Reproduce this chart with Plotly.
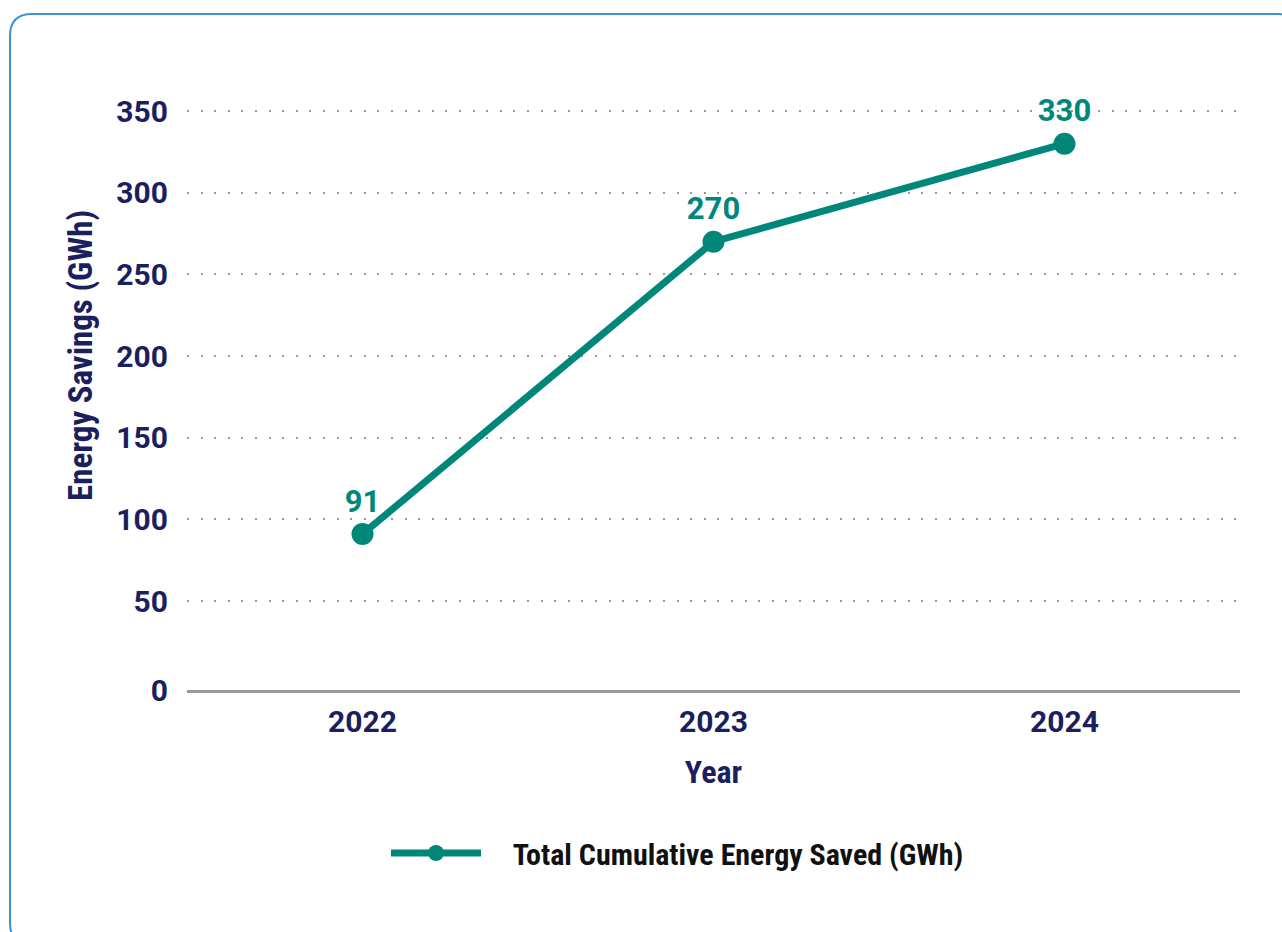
import plotly.graph_objects as go

years = ["2022", "2023", "2024"]
savings = [91, 270, 330]
y_ticks = [0, 50, 100, 150, 200, 250, 300, 350]
y_tick_text = ["0", "50", "100", "150", "200", "250", "300", "350"]

TEAL = "#00877a"
NAVY = "#1c1f5e"
COND = "Liberation Sans Narrow, Roboto Condensed, Arial Narrow, sans-serif"
W, H = 1282, 932
L, R, T, B = 187, 42, 95, 242
pw, ph = W - L - R, H - T - B
Y_MIN, Y_MAX = -4.47, 359.8  # axis baseline sits a little below zero, as in the source

def px2paper(x, y):
    return (x - L) / pw, (H - B - y) / ph

fig = go.Figure()
fig.add_trace(go.Scatter(
    x=years, y=savings, mode="lines+markers+text",
    name="    Total Cumulative Energy Saved (GWh)",
    line=dict(color=TEAL, width=7),
    marker=dict(color=TEAL, size=22),
    text=[str(v) for v in savings], textposition="top center",
    textfont=dict(family="Roboto", size=31, color=TEAL, weight="bold"),
    cliponaxis=False,
))

# rounded border
x0, y0, x1, y1, r = 10, 14, 1300, 945, 22
def P(x, y):
    a, b = px2paper(x, y)
    return f"{a:.5f},{b:.5f}"
path = (f"M {P(x0, y0 + r)} Q {P(x0, y0)} {P(x0 + r, y0)} L {P(x1 - r, y0)} "
        f"Q {P(x1, y0)} {P(x1, y0 + r)} L {P(x1, y1 - r)} Q {P(x1, y1)} {P(x1 - r, y1)} "
        f"L {P(x0 + r, y1)} Q {P(x0, y1)} {P(x0, y1 - r)} Z")
fig.add_shape(type="path", xref="paper", yref="paper", path=path,
              line=dict(color="#3d92d2", width=2), layer="below")

# y-axis title as annotation (positioned like the source)
ax, ay = px2paper(80, 356)
fig.add_annotation(text="Energy Savings (GWh)", xref="paper", yref="paper",
                   x=ax, y=ay, xanchor="center", yanchor="middle", textangle=-90,
                   showarrow=False,
                   font=dict(family=COND, size=33, color=NAVY, weight="bold"))

lx, ly = px2paper(386, 853)
# tick positions: "0" label sits on the baseline
tickvals = [Y_MIN if v == 0 else v for v in y_ticks]

fig.update_layout(
    width=W, height=H,
    margin=dict(l=L, r=R, t=T, b=B, pad=0),
    paper_bgcolor="white", plot_bgcolor="white",
    showlegend=True,
    legend=dict(orientation="h", x=lx, xanchor="left", y=ly, yanchor="middle",
                font=dict(family=COND, size=30, color="#111111", weight="bold"),
                itemwidth=90, bgcolor="rgba(0,0,0,0)"),
    xaxis=dict(
        type="category", range=[-0.5, 2.5],
        showgrid=False, zeroline=False,
        showline=True, linecolor="#999999", linewidth=3,
        ticks="", ticklabelstandoff=3,
        tickfont=dict(family="Roboto", size=30, color=NAVY, weight="bold"),
        title=dict(text="Year", standoff=23,
                   font=dict(family=COND, size=32, color=NAVY, weight="bold")),
    ),
    yaxis=dict(
        range=[Y_MIN, Y_MAX], tickvals=tickvals, ticktext=y_tick_text,
        showgrid=True, gridcolor="#9a9a9a", gridwidth=2, griddash="2px,11.6px",
        zeroline=False, showline=False, ticks="", ticklabelstandoff=18,
        tickfont=dict(family="Roboto", size=30, color=NAVY, weight="bold"),
    ),
)

fig.write_html("out.html")
